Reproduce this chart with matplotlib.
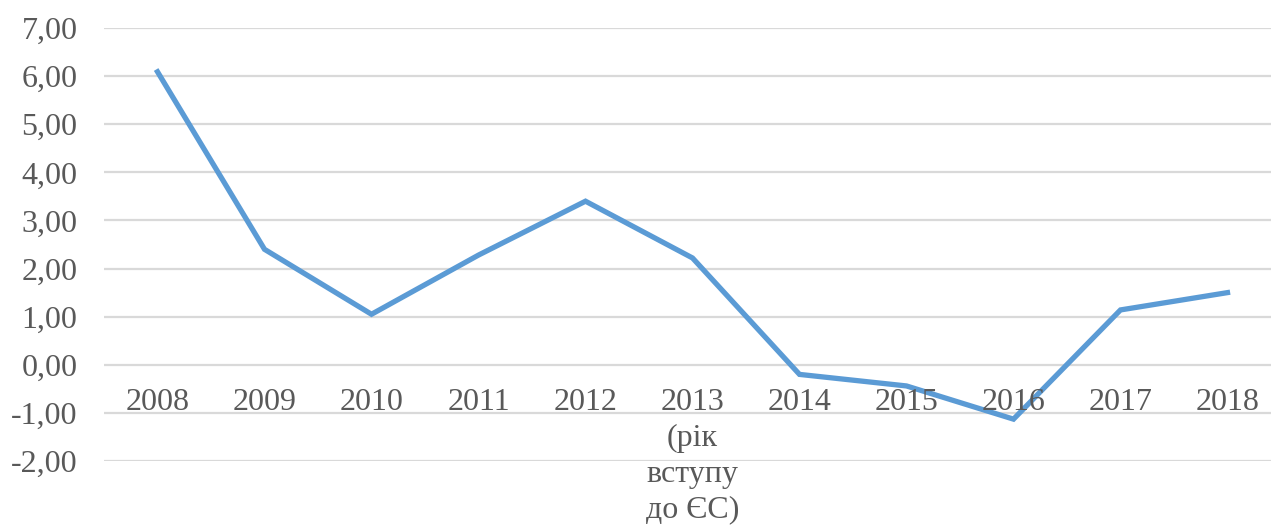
import matplotlib
matplotlib.use('Agg')
import matplotlib.pyplot as plt
import numpy as np

years = ['2008', '2009', '2010', '2011', '2012', '2013\n(рік\nвступу\nдо ЄС)',
         '2014', '2015', '2016', '2017', '2018']
values = [6.09, 2.40, 1.05, 2.28, 3.40, 2.22, -0.20, -0.44, -1.13, 1.14, 1.50]
y_ticks = [-2, -1, 0, 1, 2, 3, 4, 5, 6, 7]

plt.rcParams['font.family'] = ['Liberation Serif', 'DejaVu Serif']

fig = plt.figure(figsize=(12.71, 5.28), dpi=100)
W, H = 1271, 528
# plot area in pixels: x 104..1281, y 28..461
ax = fig.add_axes([104 / W, (H - 461) / H, (1281 - 104) / W, (461 - 28) / H])

x = np.arange(len(years))
ax.plot(x, values, color='#5B9BD5', linewidth=3.8, solid_joinstyle='miter')

ax.set_xlim(-0.5, len(years) - 0.5)
ax.set_ylim(-2, 7)
ax.set_yticks(y_ticks)
# comma decimal separator
ax.set_yticklabels([('%.2f' % v).replace('.', ',') for v in y_ticks])
ax.yaxis.set_tick_params(length=0, pad=19, labelsize=23, labelcolor='#595959')
ax.yaxis.grid(True, color='#D9D9D9', linewidth=1.6)
ax.set_axisbelow(True)
for s in ax.spines.values():
    s.set_visible(False)

# category labels sit just under the zero line
ax.set_xticks([])
for i, lab in enumerate(years):
    ax.annotate(lab, (i, 0), xytext=(0, -17), textcoords='offset points',
                ha='center', va='top', fontsize=23, color='#595959',
                linespacing=1.3)

fig.savefig('out.png', dpi=100, facecolor='white')
